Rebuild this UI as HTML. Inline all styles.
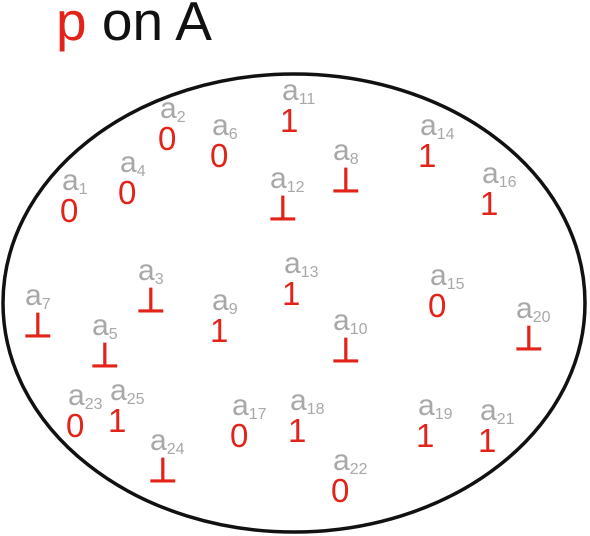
<!DOCTYPE html>
<html><head><meta charset="utf-8"><style>
html,body{margin:0;padding:0;background:#fff;}
svg{display:block;font-family:"Liberation Sans",sans-serif;}
.a{fill:#a8a8a8;font-size:30px;}
.s{font-size:16px;}
.v{fill:#e2231a;font-size:33px;}
.b{font-weight:bold;font-size:34px;}
</style></head><body>
<svg width="590" height="536" viewBox="0 0 590 536">
<text x="56" y="40" font-size="55"><tspan fill="#e2231a">p</tspan><tspan fill="#111"> on A</tspan></text>
<ellipse cx="294" cy="303" rx="291" ry="229" fill="none" stroke="#111" stroke-width="3.5"/>
<g id="items"></g>
</svg>
<script>
const names=[2,11,6,14,4,8,1,12,16,3,13,15,7,9,20,5,10,23,25,17,18,19,21,24,22];
const vals=["0","1","0","1","0","⊥","0","⊥","1","⊥","1","0","⊥","1","⊥","⊥","⊥","0","1","0","1","1","1","⊥","0"];
const ax=[160,282,212,420,120,333,62,270,482,138,284,430,25,212,516,92,333,68,110,232,290,418,480,150,333];
const ay=[118,100,135,135,172,160,190,188,183,280,273,285,305,310,318,335,330,405,400,415,410,415,420,450,470];
const g=document.getElementById('items');
const NS='http://www.w3.org/2000/svg';
for(let i=0;i<names.length;i++){
  const t=document.createElementNS(NS,'text');
  t.setAttribute('x',ax[i]);t.setAttribute('y',ay[i]);t.setAttribute('class','a');
  t.innerHTML='a<tspan class="s" dy="4">'+names[i]+'</tspan>';
  
  
  g.appendChild(t);
  const v=document.createElementNS(NS,'text');
  v.setAttribute('x',ax[i]-2);v.setAttribute('y',ay[i]+32);
  v.setAttribute('class',vals[i]==='⊥'?'v b':'v');
  v.textContent=vals[i];
  
  
  g.appendChild(v);
}
</script>
</body></html>
